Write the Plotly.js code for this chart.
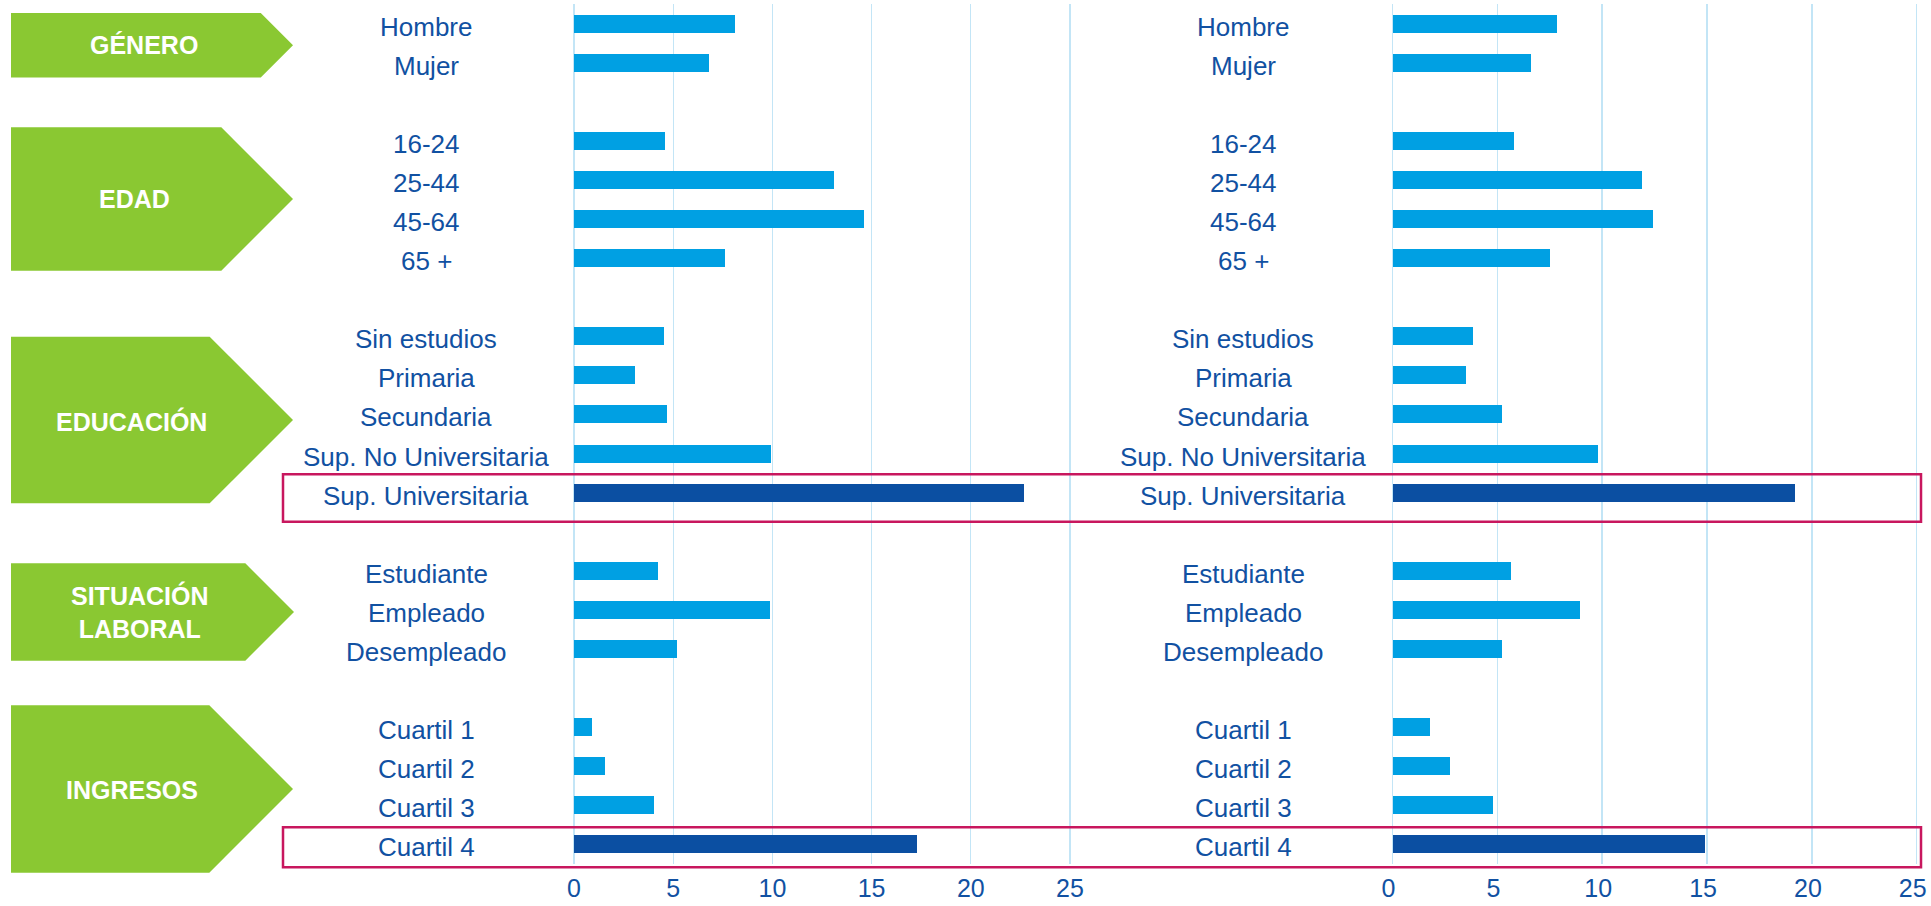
<!DOCTYPE html>
<html>
<head>
<meta charset="utf-8">
<script src="https://cdn.plot.ly/plotly-3.0.1.min.js"></script>
<style>
  html, body { margin: 0; padding: 0; background: #ffffff; }
  #chart { width: 1931px; height: 906px; }
</style>
</head>
<body>
<div id="chart"></div>
<script>
// ---------- DATA ----------
const groupTitles = ['GÉNERO', 'EDAD', 'EDUCACIÓN', 'SITUACIÓN<br>LABORAL', 'INGRESOS'];

const generoCats   = ['Hombre', 'Mujer'];
const edadCats     = ['16-24', '25-44', '45-64', '65 +'];
const educCats     = ['Sin estudios', 'Primaria', 'Secundaria', 'Sup. No Universitaria', 'Sup. Universitaria'];
const laboralCats  = ['Estudiante', 'Empleado', 'Desempleado'];
const ingresosCats = ['Cuartil 1', 'Cuartil 2', 'Cuartil 3', 'Cuartil 4'];

// left panel values
const generoLeft   = [8.1, 6.8];
const edadLeft     = [4.6, 13.1, 14.6, 7.6];
const educLeft     = [4.55, 3.05, 4.7, 9.95, 22.7];
const laboralLeft  = [4.25, 9.9, 5.2];
const ingresosLeft = [0.9, 1.55, 4.05, 17.3];

// right panel values
const generoRight   = [7.85, 6.6];
const edadRight     = [5.8, 11.9, 12.4, 7.5];
const educRight     = [3.85, 3.5, 5.2, 9.8, 19.2];
const laboralRight  = [5.65, 8.95, 5.2];
const ingresosRight = [1.8, 2.75, 4.8, 14.9];

const highlighted = ['Sup. Universitaria', 'Cuartil 4'];
const xTickVals = [0, 5, 10, 15, 20, 25];

// ---------- STYLE ----------
const W = 1931, H = 906;
const FONT = 'Liberation Sans, Arial, Helvetica, sans-serif';
const TEXT = '#1151a2';
const LIGHT = '#00a0e3';
const DARK = '#0b4fa2';
const GREEN = '#8ac832';
const MAGENTA = '#c8175e';
const GRID = '#c3e5f6';

const px = v => v / W;
const py = v => 1 - v / H;

// ---------- BUILD CATEGORIES ----------
const catGroups = [generoCats, edadCats, educCats, laboralCats, ingresosCats];
const leftGroups = [generoLeft, edadLeft, educLeft, laboralLeft, ingresosLeft];
const rightGroups = [generoRight, edadRight, educRight, laboralRight, ingresosRight];

const categories = [];
catGroups.forEach((g, i) => {
  g.forEach(c => categories.push(c));
  if (i < catGroups.length - 1) categories.push(' '.repeat(i + 1));
});
const barCats = [].concat(...catGroups);
const leftVals = [].concat(...leftGroups);
const rightVals = [].concat(...rightGroups);
const barColors = barCats.map(c => highlighted.includes(c) ? DARK : LIGHT);

const traces = [
  { type: 'bar', orientation: 'h', y: barCats, x: leftVals, xaxis: 'x', yaxis: 'y',
    width: 0.46, marker: { color: barColors, line: { width: 0 } }, hoverinfo: 'none' },
  { type: 'bar', orientation: 'h', y: barCats, x: rightVals, xaxis: 'x2', yaxis: 'y2',
    width: 0.46, marker: { color: barColors, line: { width: 0 } }, hoverinfo: 'none' }
];

// ---------- LAYOUT ----------
const leftZero = 574, leftPerUnit = 19.84;
const rightZero = 1392.5, rightPerUnit = 20.97;
const xMax = 25.1;
const yDomain = [py(864), py(4)];

const xAxisCommon = {
  range: [0, xMax], tickvals: xTickVals, showgrid: true, gridcolor: GRID, gridwidth: 1.4,
  zeroline: true, zerolinecolor: GRID, zerolinewidth: 1.4, showline: false,
  ticks: 'outside', ticklen: 2, tickcolor: 'rgba(0,0,0,0)', ticklabeloverflow: 'allow',
  tickfont: { family: FONT, size: 25, color: TEXT }, fixedrange: true
};
const yAxisCommon = {
  type: 'category', categoryorder: 'array', categoryarray: categories,
  range: [categories.length - 0.5, -0.5], showticklabels: false, showgrid: false,
  zeroline: false, showline: false, ticks: '', domain: yDomain, fixedrange: true
};

const annotations = [];
const labelCenters = [426, 1243];
['y', 'y2'].forEach((yr, k) => {
  barCats.forEach(c => annotations.push({
    xref: 'paper', yref: yr, x: px(labelCenters[k]), y: c, text: c, showarrow: false,
    xanchor: 'center', yanchor: 'middle', yshift: -3,
    font: { family: FONT, size: 26, color: TEXT }
  }));
});

// green group boxes (pixel geometry)
const boxes = [
  { top: 13, bottom: 77.5, tip: 293, tx: 144, ty: 45.5 },
  { top: 127.3, bottom: 270.7, tip: 293, tx: 134, ty: 199.5 },
  { top: 336.7, bottom: 503.3, tip: 293, tx: 131.5, ty: 421 },
  { top: 563.3, bottom: 660.7, tip: 294, tx: 140, ty: 612 },
  { top: 705.3, bottom: 872.7, tip: 293, tx: 131.5, ty: 789.5 }
];
const shapes = [];
boxes.forEach((b, i) => {
  const half = (b.bottom - b.top) / 2;
  const mid = b.top + half;
  const rEnd = b.tip - half;
  const L = 11;
  shapes.push({
    type: 'path', xref: 'paper', yref: 'paper', layer: 'below',
    path: `M ${px(L)} ${py(b.top)} L ${px(rEnd)} ${py(b.top)} L ${px(b.tip)} ${py(mid)} L ${px(rEnd)} ${py(b.bottom)} L ${px(L)} ${py(b.bottom)} Z`,
    fillcolor: GREEN, line: { width: 0 }
  });
  annotations.push({
    xref: 'paper', yref: 'paper', x: px(b.tx), y: py(b.ty), text: '<b>' + groupTitles[i] + '</b>',
    showarrow: false, xanchor: 'center', yanchor: 'middle', align: 'center',
    font: { family: FONT, size: 25, color: '#ffffff' }
  });
});

// magenta highlight frames
[[474.3, 521.7], [827.3, 867.3]].forEach(([t, b]) => {
  shapes.push({
    type: 'rect', xref: 'paper', yref: 'paper', layer: 'above',
    x0: px(283), x1: px(1921), y0: py(b), y1: py(t),
    line: { color: MAGENTA, width: 2.5 }, fillcolor: 'rgba(0,0,0,0)'
  });
});

const layout = {
  width: W, height: H, margin: { l: 0, r: 0, t: 0, b: 0, pad: 0 },
  paper_bgcolor: '#ffffff', plot_bgcolor: 'rgba(0,0,0,0)', showlegend: false,
  bargap: 0,
  xaxis: Object.assign({}, xAxisCommon, { domain: [px(leftZero), px(leftZero + xMax * leftPerUnit)], anchor: 'y' }),
  yaxis: Object.assign({}, yAxisCommon, { anchor: 'x' }),
  xaxis2: Object.assign({}, xAxisCommon, { domain: [px(rightZero), px(rightZero + xMax * rightPerUnit)], anchor: 'y2', ticklabelshift: -4 }),
  yaxis2: Object.assign({}, yAxisCommon, { anchor: 'x2' }),
  shapes: shapes,
  annotations: annotations,
  font: { family: FONT }
};

Plotly.newPlot('chart', traces, layout, { staticPlot: true, displayModeBar: false });
</script>
</body>
</html>
